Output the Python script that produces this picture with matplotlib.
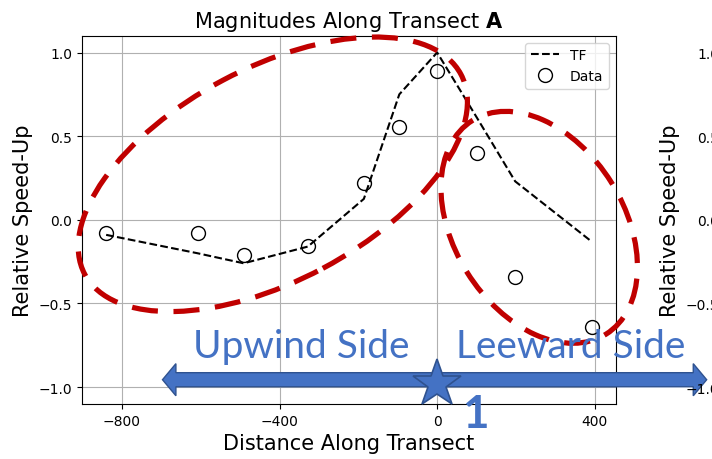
import matplotlib
matplotlib.use("Agg")
import matplotlib.pyplot as plt
import matplotlib.transforms as mtransforms
from matplotlib.patches import Ellipse, Polygon

# distance along transect and relative speed-up values
distance = [-840, -608, -491, -328, -186, -96, 0, 101, 198, 392]
tf_speedup = [-0.09, -0.20, -0.26, -0.16, 0.125, 0.75, 1.0, 0.61, 0.23, -0.13]
data_speedup = [-0.08, -0.08, -0.21, -0.155, 0.22, 0.555, 0.89, 0.40, -0.34, -0.64]

x_ticks = [-800, -400, 0, 400]
y_ticks = [-1.0, -0.5, 0.0, 0.5, 1.0]

red = "#C00000"
blue = "#4472C4"
dark_blue = "#2F528F"

fig = plt.figure(figsize=(7.12, 4.6), dpi=100)
ax = fig.add_axes([0.115, 0.12, 0.75, 0.80])
# second panel sits mostly off the canvas (only its labels show)
ax2 = fig.add_axes([1.024, 0.12, 0.75, 0.80])

ax.plot(distance, tf_speedup, "k--", label="TF")
ax.plot(distance, data_speedup, "o", mfc="none", mec="k", ms=10, label="Data")
ax.set_ylim(-1.1, 1.1)
ax.set_xlim(ax.get_xlim())
ax.set_xticks(x_ticks)
ax.set_yticks(y_ticks)
ax.grid(True)
ax.legend(loc="upper right")
ax.set_title(r"Magnitudes Along Transect $\bf{A}$", fontsize=15)
ax.set_xlabel("Distance Along Transect", fontsize=15)
ax.set_ylabel("Relative Speed-Up", fontsize=15)

ax2.set_ylim(-1.1, 1.1)
ax2.set_yticks(y_ticks)
ax2.set_ylabel("Relative Speed-Up", fontsize=15)

# red dashed ellipses (sizes in inches, centred in data coords)
def ring(cx, cy, w, h, angle):
    tr = fig.dpi_scale_trans + mtransforms.ScaledTranslation(cx, cy, ax.transData)
    e = Ellipse((0, 0), w, h, angle=angle, transform=tr, fill=False,
                edgecolor=red, lw=3.75, linestyle=(0, (5, 3)),
                clip_on=False, zorder=5)
    ax.add_patch(e)

ring(-417, 0.272, 4.26, 2.13, 28)
ring(259, -0.045, 2.52, 1.70, 122)

# blue double arrow
x0, x1, yc = -697, 684, -0.956
hw, hh, hl = 0.042, 0.096, 34
verts = [(x0, yc), (x0 + hl, yc + hh), (x0 + hl, yc + hw), (x1 - hl, yc + hw),
         (x1 - hl, yc + hh), (x1, yc), (x1 - hl, yc - hh), (x1 - hl, yc - hw),
         (x0 + hl, yc - hw), (x0 + hl, yc - hh)]
ax.add_patch(Polygon(verts, closed=True, facecolor=blue, edgecolor=dark_blue,
                     lw=1, clip_on=False, zorder=6))
ax.plot([0], [-0.98], marker="*", ms=36, mfc=blue, mec=dark_blue, mew=1.2,
        clip_on=False, zorder=7)

ax.text(-620, -0.818, "Upwind Side", family="Lato", fontsize=28, color=blue,
        ha="left", va="baseline", clip_on=False, zorder=8)
ax.text(48, -0.818, "Leeward Side", family="Lato", fontsize=28, color=blue,
        ha="left", va="baseline", clip_on=False, zorder=8)
ax.text(64, -1.237, "1", family="Lato", fontweight="bold", fontsize=33,
        color=blue, ha="left", va="baseline", clip_on=False, zorder=8)

fig.savefig("out.png", dpi=100)
